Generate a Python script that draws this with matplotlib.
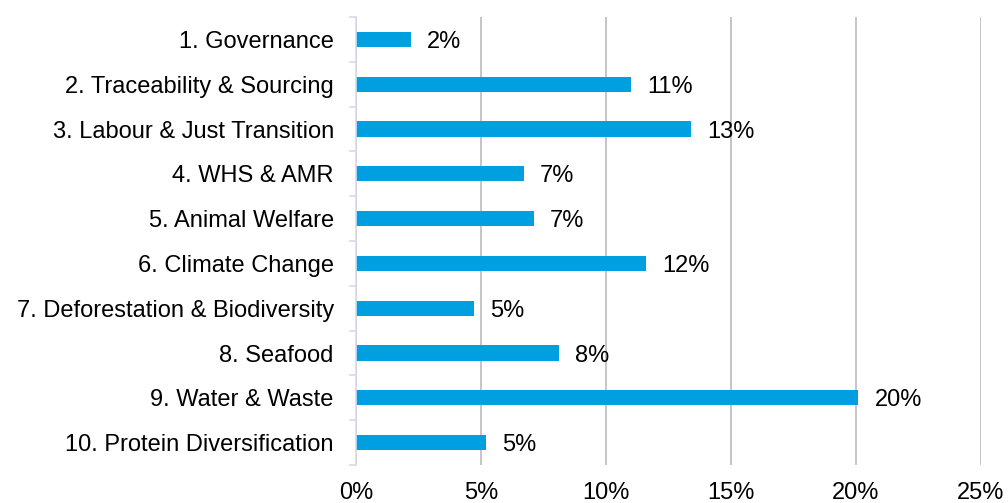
import matplotlib.pyplot as plt
import numpy as np
from matplotlib.ticker import FixedLocator, PercentFormatter

categories = [
    "1. Governance",
    "2. Traceability & Sourcing",
    "3. Labour & Just Transition",
    "4. WHS & AMR",
    "5. Animal Welfare",
    "6. Climate Change",
    "7. Deforestation & Biodiversity",
    "8. Seafood",
    "9. Water & Waste",
    "10. Protein Diversification",
]
# share of total, in percent
values = [2.2, 11.0, 13.4, 6.7, 7.1, 11.6, 4.7, 8.1, 20.1, 5.2]
x_ticks = [0, 5, 10, 15, 20, 25]

BAR_COLOR = "#009FDF"
GRID_COLOR = "#C0C0C4"
SPINE_COLOR = "#D9D9EC"
FS = 17

plt.rcParams["font.family"] = ["Liberation Sans", "DejaVu Sans"]

fig = plt.figure(figsize=(10.08, 5.03), dpi=100)
ax = fig.add_axes([0.3532, 0.0755, 0.6200, 0.8907])

y = np.arange(len(categories))
ax.barh(y, values, height=0.34, color=BAR_COLOR, zorder=3)

for yi, v in zip(y, values):
    ax.text(v + 0.65, yi, f"{v:.0f}%", va="center_baseline", ha="left",
            fontsize=FS, color="#000000")

ax.set_ylim(len(categories) - 0.5, -0.5)
ax.set_xlim(0, 25)
ax.set_yticks(y)
ax.set_yticklabels(categories, fontsize=FS)
ax.yaxis.set_minor_locator(FixedLocator(np.arange(-0.5, len(categories), 1.0)))
ax.tick_params(axis="y", which="major", length=0, pad=16)
ax.tick_params(axis="y", which="minor", length=5, color=SPINE_COLOR, width=1.2)

ax.set_xticks(x_ticks)
ax.xaxis.set_major_formatter(PercentFormatter(decimals=0))
ax.tick_params(axis="x", length=0, labelsize=FS, pad=12)
ax.grid(axis="x", color=GRID_COLOR, linewidth=1.3, zorder=0)

for side in ["top", "right", "bottom"]:
    ax.spines[side].set_visible(False)
ax.spines["left"].set_color(SPINE_COLOR)
ax.spines["left"].set_linewidth(1.2)
ax.spines["left"].set_zorder(4)

fig.savefig("out.png", dpi=100)
